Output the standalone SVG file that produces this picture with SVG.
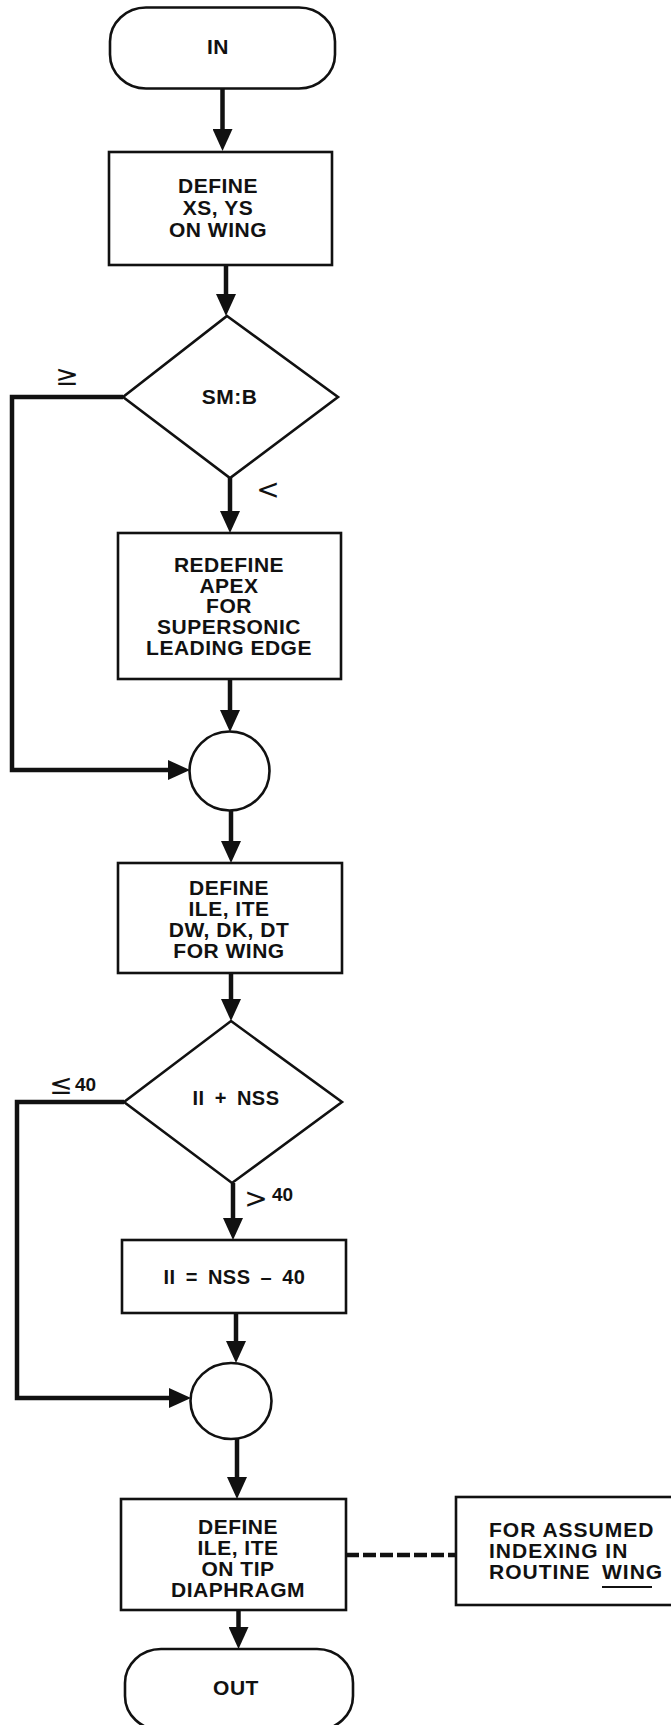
<svg xmlns="http://www.w3.org/2000/svg" width="671" height="1725" viewBox="0 0 671 1725">
<style>
.shape{fill:#fff;stroke:#111;stroke-width:2.6}
.t{font-family:"Liberation Sans",Arial,sans-serif;font-weight:bold;font-size:21px;letter-spacing:0.5px;fill:#111;text-anchor:middle}
.tl{font-family:"Liberation Sans",Arial,sans-serif;font-weight:bold;font-size:21px;letter-spacing:1px;fill:#111}
.sym{font-family:"DejaVu Sans","Liberation Sans",sans-serif;font-weight:normal;font-size:28px;fill:#111;text-anchor:middle}
.num{font-family:"Liberation Sans",Arial,sans-serif;font-weight:bold;font-size:19px;fill:#111}
.c{fill:none;stroke:#111;stroke-width:4.5}
.d{fill:none;stroke:#111;stroke-width:4.5;stroke-dasharray:13 4}
</style>
<defs>
<marker id="ah" markerUnits="userSpaceOnUse" viewBox="0 0 22 20" markerWidth="22" markerHeight="20" refX="12" refY="10" orient="auto">
<path d="M0,0 L22,10 L0,20 Z" fill="#111"/>
</marker>
</defs>
<rect width="671" height="1725" fill="#fff"/>

<g id="connectors">
<line class="c" x1="222.5" y1="88" x2="222.5" y2="141" marker-end="url(#ah)"/>
<line class="c" x1="226" y1="265" x2="226" y2="306" marker-end="url(#ah)"/>
<line class="c" x1="230" y1="478" x2="230" y2="523" marker-end="url(#ah)"/>
<path class="c" d="M123,397 H12 V770 H180" marker-end="url(#ah)"/>
<line class="c" x1="230" y1="679" x2="230" y2="722" marker-end="url(#ah)"/>
<line class="c" x1="231" y1="811" x2="231" y2="853" marker-end="url(#ah)"/>
<line class="c" x1="231" y1="973" x2="231" y2="1011" marker-end="url(#ah)"/>
<line class="c" x1="233" y1="1183" x2="233" y2="1230" marker-end="url(#ah)"/>
<path class="c" d="M124,1102 H17 V1398 H181" marker-end="url(#ah)"/>
<line class="c" x1="236" y1="1313" x2="236" y2="1353" marker-end="url(#ah)"/>
<line class="c" x1="237" y1="1439" x2="237" y2="1489" marker-end="url(#ah)"/>
<line class="c" x1="238.5" y1="1610" x2="238.5" y2="1639" marker-end="url(#ah)"/>
<line class="d" x1="346" y1="1555" x2="456" y2="1555"/>
<text class="sym" x="67" y="385">≥</text>
<text class="sym" x="268" y="499">&lt;</text>
<text class="sym" x="61" y="1094">≤</text>
<text class="num" x="75" y="1091">40</text>
<text class="sym" x="256" y="1208">&gt;</text>
<text class="num" x="272" y="1201">40</text>
</g>

<g id="in">
<rect class="shape" x="110" y="7.5" width="225" height="81" rx="36" ry="34"/>
<text class="t" x="218" y="54">IN</text>
</g>

<g id="define-xs-ys">
<rect class="shape" x="109" y="152" width="223" height="113"/>
<text class="t" x="218" y="193">DEFINE</text>
<text class="t" x="218" y="215">XS, YS</text>
<text class="t" x="218" y="237">ON WING</text>
</g>

<g id="sm-b">
<polygon class="shape" points="227,316 338,397 230,478 123,397"/>
<text class="t" x="229.5" y="404">SM:B</text>
</g>

<g id="redefine-apex">
<rect class="shape" x="118" y="533" width="223" height="146"/>
<text class="t" x="229" y="572">REDEFINE</text>
<text class="t" x="229" y="593">APEX</text>
<text class="t" x="229" y="613">FOR</text>
<text class="t" x="229" y="634">SUPERSONIC</text>
<text class="t" x="229" y="655">LEADING EDGE</text>
</g>

<g id="join1">
<ellipse class="shape" cx="229.5" cy="771" rx="40" ry="39.5"/>
</g>

<g id="define-ile-ite-wing">
<rect class="shape" x="118" y="863" width="224" height="110"/>
<text class="t" x="229" y="895">DEFINE</text>
<text class="t" x="229" y="916">ILE, ITE</text>
<text class="t" x="229" y="937">DW, DK, DT</text>
<text class="t" x="229" y="958">FOR WING</text>
</g>

<g id="ii-nss">
<polygon class="shape" points="231,1021 342,1102 232,1183 124,1102"/>
<text class="t" x="236" y="1105" style="font-size:20px;word-spacing:4px">II + NSS</text>
</g>

<g id="ii-assign">
<rect class="shape" x="122" y="1240" width="224" height="73"/>
<text class="t" x="234.5" y="1284" style="font-size:20px;word-spacing:4px">II = NSS – 40</text>
</g>

<g id="join2">
<ellipse class="shape" cx="231" cy="1401" rx="40.5" ry="38"/>
</g>

<g id="define-ile-ite-tip">
<rect class="shape" x="121" y="1499" width="225" height="111"/>
<text class="t" x="238" y="1534">DEFINE</text>
<text class="t" x="238" y="1555">ILE, ITE</text>
<text class="t" x="238" y="1576">ON TIP</text>
<text class="t" x="238" y="1597">DIAPHRAGM</text>
</g>

<g id="note">
<rect class="shape" x="456" y="1497" width="220" height="108"/>
<text class="tl" x="489" y="1537">FOR ASSUMED</text>
<text class="tl" x="489" y="1558">INDEXING IN</text>
<text class="tl" x="489" y="1579">ROUTINE <tspan x="602">WING</tspan></text>
<line x1="602" y1="1587" x2="652" y2="1587" stroke="#111" stroke-width="2"/>
</g>

<g id="out">
<rect class="shape" x="125" y="1649" width="228" height="81" rx="36" ry="34"/>
<text class="t" x="236" y="1695">OUT</text>
</g>
</svg>
